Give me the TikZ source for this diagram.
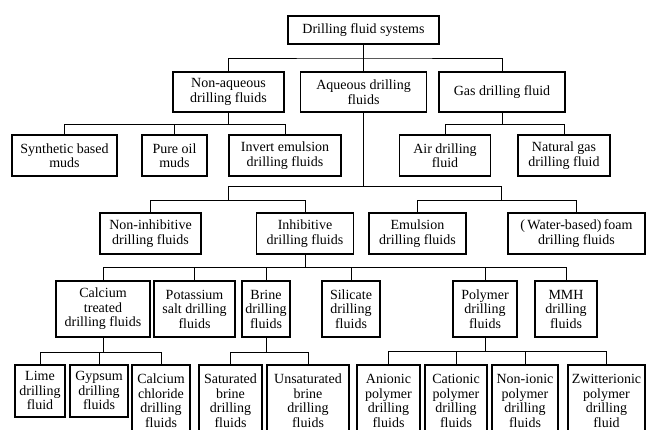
\documentclass[tikz,border=0pt]{standalone}
\usepackage{fontspec}
\setmainfont{Liberation Serif}
\begin{document}
\begin{tikzpicture}[x=1pt,y=-1pt,
  box/.style={draw, line width=1.7pt, inner sep=0pt, align=center, font=\fontsize{14}{14.5}\selectfont},
  sz/.style 2 args={minimum width=#1pt, minimum height=#2pt},
  conn/.style={draw, line width=0.9pt}]
\clip (0,0) rectangle (646,429);
\useasboundingbox (0,0) rectangle (646,429);
% row 0
\node[box, sz={151}{28}] (top) at (363.5,30) {Drilling fluid systems};
% row 1
\node[box, sz={111}{40}] (nonaq) at (228.5,92) {Non-aqueous\\drilling fluids};
\node[box, sz={126}{40}] (aq) at (363.5,92) {Aqueous drilling\\fluids};
\node[box, sz={126}{40}] (gas) at (502,92) {Gas drilling fluid};
% row 2
\node[box, sz={105}{41}] (synth) at (64.5,155.5) {Synthetic based\\muds};
\node[box, sz={65}{41}] (pure) at (174.5,155.5) {Pure oil\\muds};
\node[box, sz={112}{41}] (invert) at (285,155.5) {Invert emulsion\\drilling fluids};
\node[box, sz={91}{41}] (air) at (445,155.5) {Air drilling\\fluid};
\node[box, sz={92}{41}] (natgas) at (564,155.5) {Natural gas\\drilling fluid};
% row 3
\node[box, sz={101}{41}] (nonin) at (150.5,233.5) {Non-inhibitive\\drilling fluids};
\node[box, sz={97}{41}] (inhib) at (305,233.5) {Inhibitive\\drilling fluids};
\node[box, sz={97}{41}] (emul) at (417.5,233.5) {Emulsion\\drilling fluids};
\node[box, sz={137}{41}] (foam) at (576.5,233.5) {(\,Water-based)\,foam\\drilling fluids};
% row 4
\node[box, sz={94}{56}] (calc) at (103,309) {Calcium\\treated\\drilling fluids};
\node[box, sz={81}{56}] (pot) at (194.5,309) {Potassium\\salt drilling\\fluids};
\node[box, sz={48}{56}] (brine) at (266,309) {Brine\\drilling\\fluids};
\node[box, sz={58}{56}] (sil) at (351,309) {Silicate\\drilling\\fluids};
\node[box, sz={64}{56}] (poly) at (485,309) {Polymer\\drilling\\fluids};
\node[box, sz={62}{56}] (mmh) at (566,309) {MMH\\drilling\\fluids};
% row 5
\node[box, sz={50}{52}, anchor=north] (lime) at (40,364) {Lime\\drilling\\fluid};
\node[box, sz={58}{52}, anchor=north] (gyp) at (99,364) {Gypsum\\drilling\\fluids};
\node[box, sz={58}{72}, anchor=north] (cacl) at (161,364) {Calcium\\chloride\\drilling\\fluids};
\node[box, sz={63}{72}, anchor=north] (sat) at (230.5,364) {Saturated\\brine\\drilling\\fluids};
\node[box, sz={82}{72}, anchor=north] (unsat) at (308,364) {Unsaturated\\brine\\drilling\\fluids};
\node[box, sz={63}{72}, anchor=north] (anion) at (388.5,364) {Anionic\\polymer\\drilling\\fluids};
\node[box, sz={62}{72}, anchor=north] (cation) at (456,364) {Cationic\\polymer\\drilling\\fluids};
\node[box, sz={66}{72}, anchor=north] (nonion) at (525,364) {Non-ionic\\polymer\\drilling\\fluids};
\node[box, sz={77}{72}, anchor=north] (zwit) at (606.5,364) {Zwitterionic\\polymer\\drilling\\fluid};
% bus junctions
\coordinate (b0) at (363.5,58);
\coordinate (b1) at (228.5,124);
\coordinate (b2) at (502,124);
\coordinate (b3) at (363.5,186);
\coordinate (b4) at (228.5,200);
\coordinate (b5) at (501,200);
\coordinate (b6) at (305,267);
\coordinate (b7) at (103,352);
\coordinate (b8) at (266,352);
\coordinate (b9) at (485,351);
% connectors
\draw[conn] (top.south) -- (aq.north);
\draw[conn] (nonaq.north) |- (b0) -| (gas.north);
\draw[conn] (nonaq.south) -- (b1);
\draw[conn] (synth.north) |- (b1);
\draw[conn] (pure.north) |- (b1);
\draw[conn] (invert.north) |- (b1);
\draw[conn] (gas.south) -- (b2);
\draw[conn] (air.north) |- (b2);
\draw[conn] (natgas.north) |- (b2);
\draw[conn] (aq.south) -- (b3);
\draw[conn] (b4) |- (b3);
\draw[conn] (b5) |- (b3);
\draw[conn] (nonin.north) |- (b4);
\draw[conn] (inhib.north) |- (b4);
\draw[conn] (emul.north) |- (b5);
\draw[conn] (foam.north) |- (b5);
\draw[conn] (inhib.south) -- (b6);
\draw[conn] (calc.north) |- (b6);
\draw[conn] (pot.north) |- (b6);
\draw[conn] (brine.north) |- (b6);
\draw[conn] (sil.north) |- (b6);
\draw[conn] (poly.north) |- (b6);
\draw[conn] (mmh.north) |- (b6);
\draw[conn] (calc.south) -- (b7);
\draw[conn] (lime.north) |- (b7);
\draw[conn] (gyp.north) |- (b7);
\draw[conn] (cacl.north) |- (b7);
\draw[conn] (brine.south) -- (b8);
\draw[conn] (sat.north) |- (b8);
\draw[conn] (unsat.north) |- (b8);
\draw[conn] (poly.south) -- (b9);
\draw[conn] (anion.north) |- (b9);
\draw[conn] (cation.north) |- (b9);
\draw[conn] (nonion.north) |- (b9);
\draw[conn] (zwit.north) |- (b9);
\end{tikzpicture}
\end{document}
